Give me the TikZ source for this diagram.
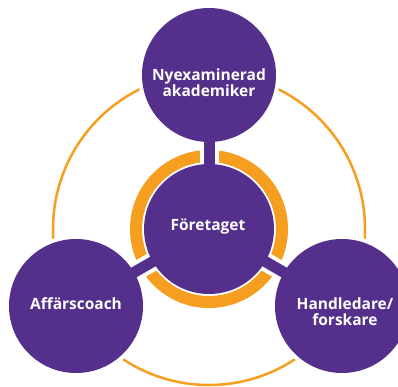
\documentclass[tikz,border=0pt]{standalone}
\usepackage{fontspec}
\setmainfont{Open Sans}
\definecolor{purp}{RGB}{84,48,140}
\definecolor{orng}{RGB}{245,158,32}
\tikzset{
  bigcirc/.style={circle, fill=purp, minimum size=134pt, inner sep=0pt},
  halo/.style={circle, fill=white, minimum size=142pt, inner sep=0pt},
  lbl/.style={text=white, font=\fontsize{15.5}{16}\selectfont\bfseries, align=center},
  spokewhite/.style={line width=19pt, white},
  spoke/.style={line width=11pt, purp},
  outerline/.style={line width=2.5pt, orng},
  ringline/.style={line width=12pt, orng}
}
\begin{document}
\begin{tikzpicture}[x=1pt,y=-1pt]
\useasboundingbox (0,0) rectangle (398,387);
\coordinate (c) at (209,229);
\coordinate (t) at (209,75);
\coordinate (l) at (76,306);
\coordinate (r) at (342,306);
% outer orange circle
\draw[outerline] (c) circle[radius=156];
% white halos
\node[halo] at (t) {};
\node[halo] at (l) {};
\node[halo] at (r) {};
% inner ring
\draw[ringline] (c) circle[radius=73];
% spokes
\draw[spokewhite] (c) -- (t);
\draw[spokewhite] (c) -- (l);
\draw[spokewhite] (c) -- (r);
\draw[spoke] (c) -- (t);
\draw[spoke] (c) -- (l);
\draw[spoke] (c) -- (r);
% circles
\node[bigcirc] (top) at (t) {};
\node[bigcirc] (left) at (l) {};
\node[bigcirc] (right) at (r) {};
\node[circle, fill=purp, minimum size=130pt, inner sep=0pt] (mid) at (c) {};
% labels
\node[lbl] (tl) at (209,83) {Nyexaminerad\\akademiker};
\node[lbl] (ml) at (208,227) {Företaget};
\node[lbl] (ll) at (76,304) {Affärscoach};
\node[lbl] (rl) at (345,312) {Handledare/\\forskare};
\end{tikzpicture}
\end{document}
